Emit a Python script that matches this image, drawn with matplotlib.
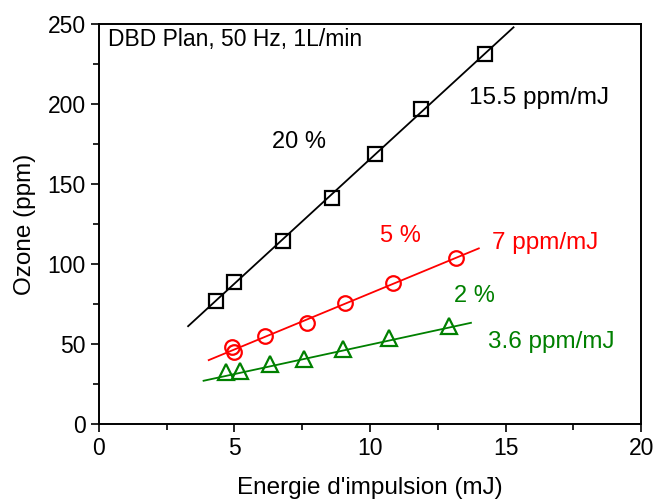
import numpy as np
import matplotlib.pyplot as plt
from matplotlib.ticker import MultipleLocator

plt.rcParams['font.family'] = ['Liberation Sans', 'DejaVu Sans']

# 20 % : carres noirs
x20 = [4.30, 5.00, 6.78, 8.58, 10.17, 11.88, 14.25]
y20 = [76.9, 89.0, 114.4, 141.5, 168.7, 196.9, 231.5]
# 5 % : cercles rouges
x5 = [4.89, 4.97, 6.12, 7.67, 9.08, 10.86, 13.16]
y5 = [47.9, 45.2, 55.2, 63.3, 75.8, 88.3, 104.0]
# 2 % : triangles verts
x2 = [4.70, 5.20, 6.32, 7.57, 9.01, 10.70, 12.90]
y2 = [32.7, 33.1, 37.3, 41.0, 46.7, 54.0, 61.2]

# droites d'ajustement (extremites)
fit20_x = [3.29, 15.29]
fit20_y = [61.2, 247.9]
fit5_x = [4.05, 14.01]
fit5_y = [40.0, 109.8]
fit2_x = [3.86, 13.72]
fit2_y = [27.1, 63.3]

fig = plt.figure(figsize=(6.55, 4.99), dpi=100)
ax = fig.add_axes([0.151, 0.150, 0.828, 0.802])

ax.plot(fit20_x, fit20_y, color="black", lw=1.3)
ax.plot(fit5_x, fit5_y, color="red", lw=1.3)
ax.plot(fit2_x, fit2_y, color="green", lw=1.3)

ax.plot(x20, y20, "s", ms=9.5, mfc="none", mec="black", mew=1.6)
ax.plot(x5, y5, "o", ms=10.5, mfc="none", mec="red", mew=1.6)
ax.plot(x2, y2, "^", ms=11.5, mfc="none", mec="green", mew=1.6)

ax.text(0.35, 240, "DBD Plan, 50 Hz, 1L/min", fontsize=16.5, va="center")
ax.text(6.38, 176, "20 %", fontsize=17, va="center")
ax.text(13.63, 203.7, "15.5 ppm/mJ", fontsize=17.5, va="center")
ax.text(10.37, 117.5, "5 %", fontsize=17, va="center", color="red")
ax.text(14.49, 113, "7 ppm/mJ", fontsize=17.5, va="center", color="red")
ax.text(13.08, 80, "2 %", fontsize=17, va="center", color="green")
ax.text(14.35, 51.4, "3.6 ppm/mJ", fontsize=17.5, va="center", color="green")

ax.set_xlim(0, 20)
ax.set_ylim(0, 250)
ax.xaxis.set_major_locator(MultipleLocator(5))
ax.xaxis.set_minor_locator(MultipleLocator(2.5))
ax.yaxis.set_major_locator(MultipleLocator(50))
ax.yaxis.set_minor_locator(MultipleLocator(25))
ax.tick_params(which="both", direction="out", top=False, right=False, labelsize=16.5, width=1.2)
ax.tick_params(which="major", length=6)
ax.tick_params(which="minor", length=4)
for s in ax.spines.values():
    s.set_linewidth(1.4)

ax.set_xlabel("Energie d'impulsion (mJ)", fontsize=17.5, labelpad=12)
ax.set_ylabel("Ozone (ppm)", fontsize=17.5, labelpad=8)

fig.savefig("out.png", dpi=100)
